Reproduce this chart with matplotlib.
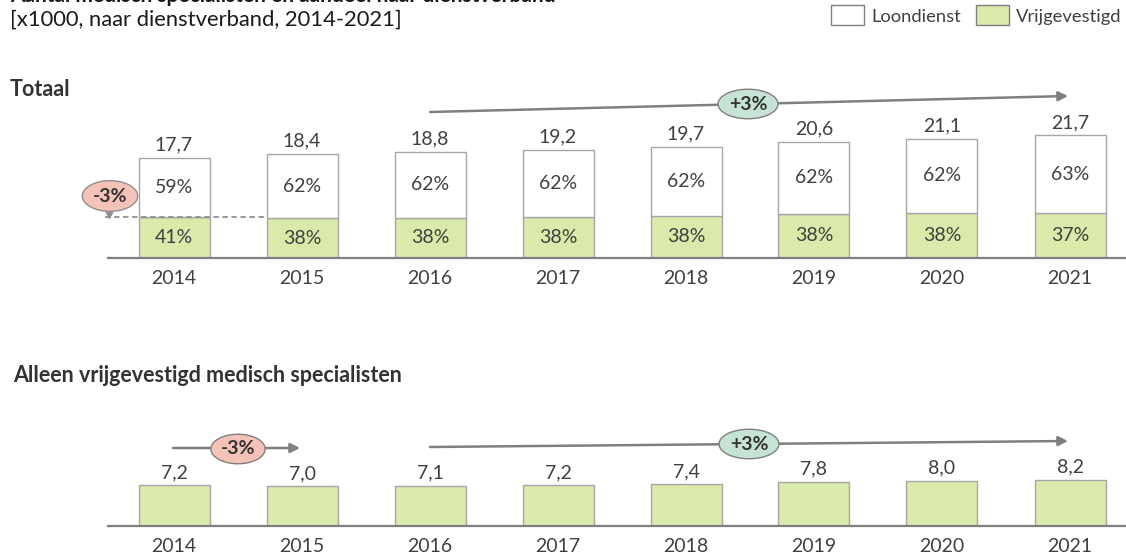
import numpy as np
import matplotlib.pyplot as plt
from matplotlib.patches import Patch

plt.rcParams['font.family'] = ['Lato', 'DejaVu Sans']

# data
years = ['2014', '2015', '2016', '2017', '2018', '2019', '2020', '2021']
totaal = [17.7, 18.4, 18.8, 19.2, 19.7, 20.6, 21.1, 21.7]
pct_vrij = [41, 38, 38, 38, 38, 38, 38, 37]
pct_loon = [59, 62, 62, 62, 62, 62, 62, 63]
alleen_vrij = [7.2, 7.0, 7.1, 7.2, 7.4, 7.8, 8.0, 8.2]

W, H = 1126, 554
GREEN = '#d9eaaa'
EDGE = '#a6a6a6'
TXT = '#404040'
AX = '#7f7f7f'
MINT = '#c6e4d5'
SALMON = '#f4c2b6'

fig = plt.figure(figsize=(W / 100, H / 100), dpi=100)

px_per_unit = 5.65
x0_px, step_px = 174, 128
left_px, right_px = 108, 1126
xlim = ((left_px - x0_px) / step_px, (right_px - x0_px) / step_px)
bw = 71 / step_px


def make_ax(base_px, top_px):
    ax = fig.add_axes([left_px / W, (H - base_px) / H, (right_px - left_px) / W, (base_px - top_px) / H])
    ax.set_xlim(*xlim)
    ax.set_ylim(0, (base_px - top_px) / px_per_unit)
    for s in ['top', 'right', 'left']:
        ax.spines[s].set_visible(False)
    ax.spines['bottom'].set_color(AX)
    ax.spines['bottom'].set_linewidth(1.6)
    ax.set_yticks([])
    ax.set_xticks(range(len(years)))
    ax.set_xticklabels(years, fontsize=14, color=TXT)
    ax.tick_params(axis='x', length=0, pad=9)
    ax.patch.set_alpha(0)
    return ax


x = np.arange(len(years))
tot = np.array(totaal)
vrij = tot * np.array(pct_vrij) / 100
loon = tot - vrij

# top panel
ax1 = make_ax(258, 70)
ax1.bar(x, vrij, bw, color=GREEN, edgecolor=EDGE, linewidth=1)
ax1.bar(x, loon, bw, bottom=vrij, color='white', edgecolor=EDGE, linewidth=1)
for i in range(len(x)):
    ax1.text(x[i], vrij[i] / 2, f'{pct_vrij[i]}%', ha='center', va='center', fontsize=14, color=TXT)
    ax1.text(x[i], vrij[i] + loon[i] / 2, f'{pct_loon[i]}%', ha='center', va='center', fontsize=14, color=TXT)
    ax1.annotate(f'{totaal[i]:.1f}'.replace('.', ','), (x[i], tot[i]), xytext=(0, 3),
                 textcoords='offset points', ha='center', va='bottom', fontsize=14, color=TXT)


def py(ax, pix, base):
    return (base - pix) / px_per_unit


def px(pix):
    return (pix - x0_px) / step_px


bubble = dict(fontsize=14, fontweight='bold', color='#333333', ha='center', va='center', zorder=5)

# +3% trend arrow top
ax1.annotate('', xy=(px(1068), py(ax1, 96, 258)), xytext=(px(430), py(ax1, 112, 258)),
             arrowprops=dict(arrowstyle='-|>', color=AX, lw=1.8, mutation_scale=14, shrinkA=0, shrinkB=0))
ax1.text(px(748), py(ax1, 104, 258), '+3%',
         bbox=dict(boxstyle='ellipse,pad=0.1', fc=MINT, ec=AX, lw=1), **bubble)

# -3% callout top
ax1.plot([px(105), 1 - bw / 2], [vrij[0], vrij[0]], ls=(0, (3, 2)), color='#909090', lw=1.3, clip_on=False, zorder=1)
ax1.plot([px(109)], [py(ax1, 214, 258)], marker='v', color='#909090', ms=6, clip_on=False, zorder=4)
ax1.text(px(110), py(ax1, 196, 258), '-3%',
         bbox=dict(boxstyle='ellipse,pad=0.12', fc=SALMON, ec='#909090', lw=1), **bubble)

# bottom panel
ax2 = make_ax(526, 400)
ax2.bar(x, alleen_vrij, bw, color=GREEN, edgecolor=EDGE, linewidth=1)
for i in range(len(x)):
    ax2.annotate(f'{alleen_vrij[i]:.1f}'.replace('.', ','), (x[i], alleen_vrij[i]), xytext=(0, 3),
                 textcoords='offset points', ha='center', va='bottom', fontsize=14, color=TXT)

ax2.annotate('', xy=(px(300), py(ax2, 448, 526)), xytext=(px(173), py(ax2, 448, 526)),
             arrowprops=dict(arrowstyle='-|>', color=AX, lw=1.8, mutation_scale=14, shrinkA=0, shrinkB=0))
ax2.text(px(238), py(ax2, 449, 526), '-3%',
         bbox=dict(boxstyle='ellipse,pad=0.1', fc=SALMON, ec=AX, lw=1), **bubble)
ax2.annotate('', xy=(px(1068), py(ax2, 441, 526)), xytext=(px(430), py(ax2, 447, 526)),
             arrowprops=dict(arrowstyle='-|>', color=AX, lw=1.8, mutation_scale=14, shrinkA=0, shrinkB=0))
ax2.text(px(749), py(ax2, 444, 526), '+3%',
         bbox=dict(boxstyle='ellipse,pad=0.1', fc=MINT, ec=AX, lw=1), **bubble)

# titles
fig.text(10 / W, 1 + 4 / H, 'Aantal medisch specialisten en aandeel naar dienstverband',
         fontsize=15, fontweight='bold', color='#1a1a1a', va='center', ha='left')
fig.text(10 / W, 1 - 20 / H, '[x1000, naar dienstverband, 2014-2021]',
         fontsize=15.8, color='#1a1a1a', va='center', ha='left')
fig.text(10 / W, 1 - 90 / H, 'Totaal', fontsize=15.5, fontweight='bold', color='#333333', va='center', ha='left')
fig.text(13 / W, 1 - 375 / H, 'Alleen vrijgevestigd medisch specialisten', fontsize=15.5, fontweight='bold',
         color='#333333', va='center', ha='left')

handles = [Patch(fc='white', ec=AX, label='Loondienst'), Patch(fc=GREEN, ec=AX, label='Vrijgevestigd')]
fig.legend(handles=handles, loc='upper right', bbox_to_anchor=(1.011, 1.02), ncol=2, frameon=False,
           fontsize=13.2, handlelength=1.8, handleheight=1.3, handletextpad=0.4, columnspacing=0.8,
           labelcolor=TXT)

fig.savefig('out.png', dpi=100)
